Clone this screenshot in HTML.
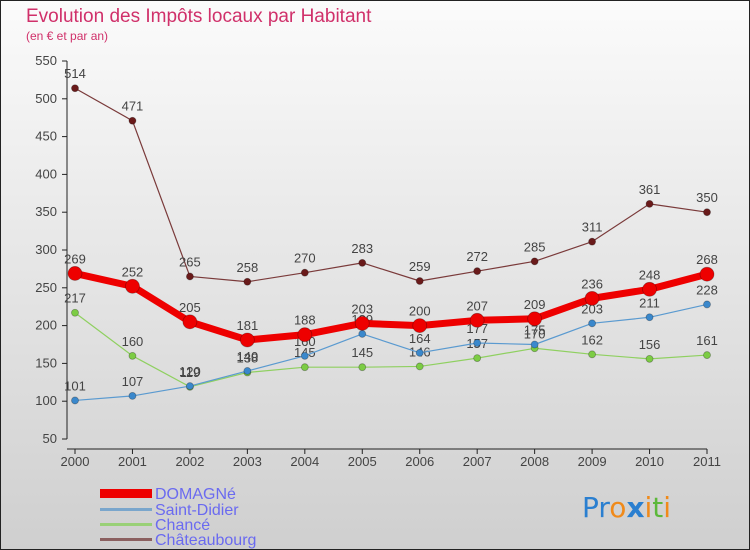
<!DOCTYPE html>
<html><head><meta charset="utf-8"><style>
body{margin:0;width:750px;height:550px;overflow:hidden;font-family:"Liberation Sans",sans-serif}
svg{display:block}
</style></head><body>
<svg id="chart" width="750" height="550" viewBox="0 0 750 550" xmlns="http://www.w3.org/2000/svg" font-family="'Liberation Sans',sans-serif">
<defs><linearGradient id="bg" x1="0" y1="0" x2="0" y2="1"><stop offset="0" stop-color="#fbfbfb"/><stop offset="1" stop-color="#cfcfcf"/></linearGradient></defs>
<rect x="0.5" y="0.5" width="749" height="549" fill="url(#bg)" stroke="#222"/>
<text x="26" y="22" font-size="19" fill="#d0306a">Evolution des Impôts locaux par Habitant</text>
<text x="26" y="40" font-size="12" fill="#d0306a">(en € et par an)</text>
<g id="axes"></g><g id="series"></g>
<g font-size="16" fill="#6a6af0">
<rect x="100" y="489" width="52" height="9" fill="#e00"/>
<text x="155" y="499" fill="#6a6af0">DOMAGNé</text>
<rect x="100" y="508" width="52" height="3" fill="#7aa6cc"/>
<text x="155" y="515" fill="#6a6af0">Saint-Didier</text>
<rect x="100" y="523" width="52" height="3" fill="#99d077"/>
<text x="155" y="530" fill="#6a6af0">Chancé</text>
<rect x="100" y="538" width="52" height="3" fill="#8b6060"/>
<text x="155" y="545" fill="#6a6af0">Châteaubourg</text>
</g>
<g font-size="28" font-family="'DejaVu Sans',sans-serif">
<text x="582" y="517"><tspan fill="#2a7fd0">Pr</tspan><tspan fill="#f08a1a">o</tspan><tspan fill="#2a7fd0" font-weight="bold">x</tspan><tspan fill="#f08a1a">i</tspan><tspan fill="#5cb83a">t</tspan><tspan fill="#f08a1a">i</tspan></text>
</g>
</svg>
<script>
const years=["2000","2001","2002","2003","2004","2005","2006","2007","2008","2009","2010","2011"];
const yTicks=[50,100,150,200,250,300,350,400,450,500,550];
const domagne=[269,252,205,181,188,203,200,207,209,236,248,268];
const saintDidier=[101,107,120,140,160,189,164,177,175,203,211,228];
const chance=[217,160,119,138,145,145,146,157,170,162,156,161];
const chateaubourg=[514,471,265,258,270,283,259,272,285,311,361,350];
const NS="http://www.w3.org/2000/svg";
const x=i=>75+i*(707-75)/11;
const y=v=>439-(v-50)*(378/500);
function mk(tag,attrs,parent){const e=document.createElementNS(NS,tag);for(const k in attrs)e.setAttribute(k,attrs[k]);parent.appendChild(e);return e;}
const ax=document.getElementById('axes');
const yAxis=mk('line',{x1:67,y1:y(550),x2:67,y2:y(50),stroke:'#222'},ax);


const xAxis=mk('line',{x1:67,y1:449,x2:707,y2:449,stroke:'#222'},ax);


yTicks.forEach(t=>{
 mk('line',{x1:62,y1:y(t),x2:67,y2:y(t),stroke:'#222'},ax);
 const tx=mk('text',{x:57,y:y(t)+4,'text-anchor':'end','font-size':13,fill:'#444'},ax);
 tx.textContent=t;
 
 
});
years.forEach((yr,i)=>{
 mk('line',{x1:x(i),y1:449,x2:x(i),y2:454,stroke:'#222'},ax);
 const tx=mk('text',{x:x(i),y:466,'text-anchor':'middle','font-size':13,fill:'#444'},ax);
 tx.textContent=yr;
 
 
});
const sg=document.getElementById('series');
function series(name,data,color,width,r,dot){
 const g=mk('g',{},sg);
 
 
 const p=mk('polyline',{points:data.map((v,i)=>x(i)+','+y(v)).join(' '),fill:'none',stroke:color,'stroke-width':width,'stroke-linejoin':'round'},g);
 
 
 data.forEach((v,i)=>{
  const c=mk('circle',{cx:x(i),cy:y(v),r:r,fill:dot,stroke:'rgba(0,0,0,0.3)','stroke-width':0.8},g);
  
  
  const t=mk('text',{x:x(i),y:y(v)-10,'text-anchor':'middle','font-size':13,fill:'#444'},g);
  t.textContent=v;
  
  
 });
}
series('chateaubourg',chateaubourg,'#7a3a3a',1.2,3.5,'#6a1a1a');
series('chance',chance,'#8fd060',1.2,3.5,'#7ccc44');
series('saint-didier',saintDidier,'#5a9ad0',1.2,3.5,'#3a88cc');
series('domagne',domagne,'#ee0000',7,7,'#ee0000');
</script>
</body></html>
